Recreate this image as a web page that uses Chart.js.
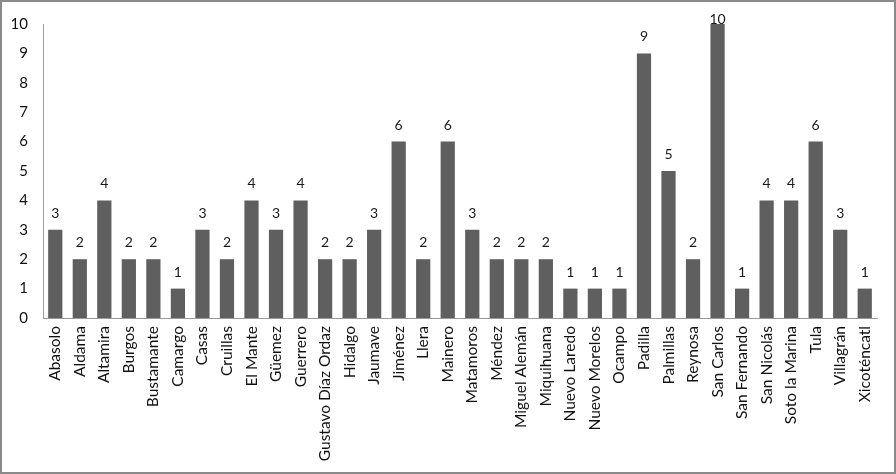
<!DOCTYPE html>
<html><head><meta charset="utf-8">
<script src="https://cdn.jsdelivr.net/npm/chart.js@4"></script>
<style>html,body{margin:0;padding:0;background:#fff}#wrap{width:896px;height:474px;position:relative}</style>
</head><body><div id="wrap"><canvas id="c" width="896" height="474"></canvas></div>
<script>
const categories = ["Abasolo","Aldama","Altamira","Burgos","Bustamante","Camargo","Casas","Cruillas","El Mante","Güemez","Guerrero","Gustavo Díaz Ordaz","Hidalgo","Jaumave","Jiménez","Llera","Mainero","Matamoros","Méndez","Miguel Alemán","Miquihuana","Nuevo Laredo","Nuevo Morelos","Ocampo","Padilla","Palmillas","Reynosa","San Carlos","San Fernando","San Nicolás","Soto la Marina","Tula","Villagrán","Xicoténcatl"];
const values = [3,2,4,2,2,1,3,2,4,3,4,2,2,3,6,2,6,3,2,2,2,1,1,1,9,5,2,10,1,4,4,6,3,1];
const yTicks = [0,1,2,3,4,5,6,7,8,9,10];

const FONT = "Lato, 'Open Sans', sans-serif";
const frame = {
  id:'frame',
  beforeDraw(chart){const c=chart.ctx;c.save();c.fillStyle='#fff';c.fillRect(0,0,chart.width,chart.height);c.restore();},
  afterDraw(chart){const c=chart.ctx;c.save();c.strokeStyle='#8a8a8a';c.lineWidth=2;c.strokeRect(1,1,chart.width-2,chart.height-2);c.restore();}
};
const labels = {
  id:'vlabels',
  afterDatasetsDraw(chart){
    const c=chart.ctx;const meta=chart.getDatasetMeta(0);
    c.save();c.fillStyle='#1a1a1a';c.font="14px "+FONT;c.textAlign='center';c.textBaseline='alphabetic';
    meta.data.forEach((el,i)=>{c.fillText(String(values[i]),el.x,Math.max(el.y-12,chart.chartArea.top));});
    c.restore();
  }
};
new Chart(document.getElementById('c'),{
  type:'bar',
  data:{labels:categories,datasets:[{data:values,backgroundColor:'#5f5f5f',borderWidth:0,categoryPercentage:1,barPercentage:0.58}]},
  options:{
    responsive:false,animation:false,devicePixelRatio:1,
    layout:{padding:{left:0,top:17,right:19,bottom:0}},
    plugins:{legend:{display:false},tooltip:{enabled:false}},
    scales:{
      x:{
        grid:{display:false,drawTicks:false},
        border:{display:true,color:'#9a9a9a',width:1},
        ticks:{autoSkip:false,maxRotation:90,minRotation:90,padding:8,color:'#111',font:{family:FONT,size:15.5}},
        afterFit(s){s.height=156;}
      },
      y:{
        min:0,max:10,
        afterBuildTicks(s){s.ticks=yTicks.map(v=>({value:v}));},
        grid:{display:false,drawTicks:false},
        border:{display:true,color:'#9a9a9a',width:1},
        ticks:{padding:15,color:'#111',font:{family:FONT,size:15}},
        afterFit(s){s.width=43;}
      }
    }
  },
  plugins:[frame,labels]
});
</script></body></html>
